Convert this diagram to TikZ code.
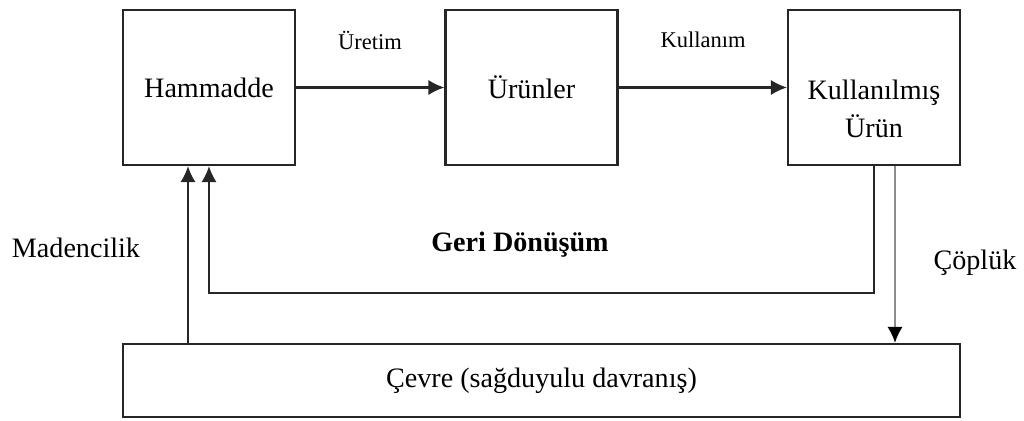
\documentclass[tikz,border=0pt]{standalone}
\usepackage{fontspec}
\setmainfont{Liberation Serif}
\usetikzlibrary{arrows.meta}
\begin{document}
\begin{tikzpicture}[line width=1.5pt, draw=black!85, >={Latex[length=0.4cm,width=0.38cm]}]
    \tikzstyle{box}=[rectangle, draw, minimum width=4.3cm, minimum height=3.875cm, inner sep=2pt, align=center, font=\fontsize{20}{27}\selectfont]
    \tikzstyle{wide box}=[box, minimum width=20.925cm, minimum height=1.825cm]
    \tikzstyle{annot}=[font=\fontsize{20}{24}\selectfont]
    \tikzstyle{small annot}=[font=\fontsize{16}{20}\selectfont]

    \useasboundingbox (0,0) rectangle (25.6,-10.5);

    % Draw the three stages
    \node[box] (Hammadde) at (5.225,-2.1875) {Hammadde};
    \node[box] (Urunler) at (13.2875,-2.1875) {Ürünler};
    \node[box] (Kullanilmis) at (21.85,-2.1875) {\mbox{}\\[0.6cm]Kullanılmış\\Ürün};

    % Draw the environment box
    \node[wide box] (Cevre) at (13.5375,-9.5125) {Çevre (sağduyulu davranış)};

    % Draw the labels
    \node[small annot] (Uretim) at (9.25,-1.0) {Üretim};
    \node[small annot] (Kullanim) at (17.575,-1.0) {Kullanım};
    \node[annot] (Madencilik) at (1.9,-6.2) {Madencilik};
    \node[annot, font=\fontsize{20}{24}\selectfont\bfseries] (GeriDonusum) at (13.0,-6.125) {Geri Dönüşüm};
    \node[annot] (Copluk) at (24.375,-6.575) {Çöplük};

    % Draw the connectors
    \draw[->] (Hammadde) -- (Urunler);
    \draw[->] (Urunler) -- (Kullanilmis);
    \draw[->] ([xshift=-0.525cm]Hammadde.south |- Cevre.north) -- ([xshift=-0.525cm]Hammadde.south);
    \coordinate (donus) at (5.225,-7.325);
    \draw[->] (Kullanilmis.south) |- (donus) -- (Hammadde.south);
    \draw[->, draw=black!45, {Latex[black,length=0.4cm,width=0.38cm]}-] ([xshift=0.525cm]Kullanilmis.south |- Cevre.north) -- ([xshift=0.525cm]Kullanilmis.south);
\end{tikzpicture}
\end{document}
